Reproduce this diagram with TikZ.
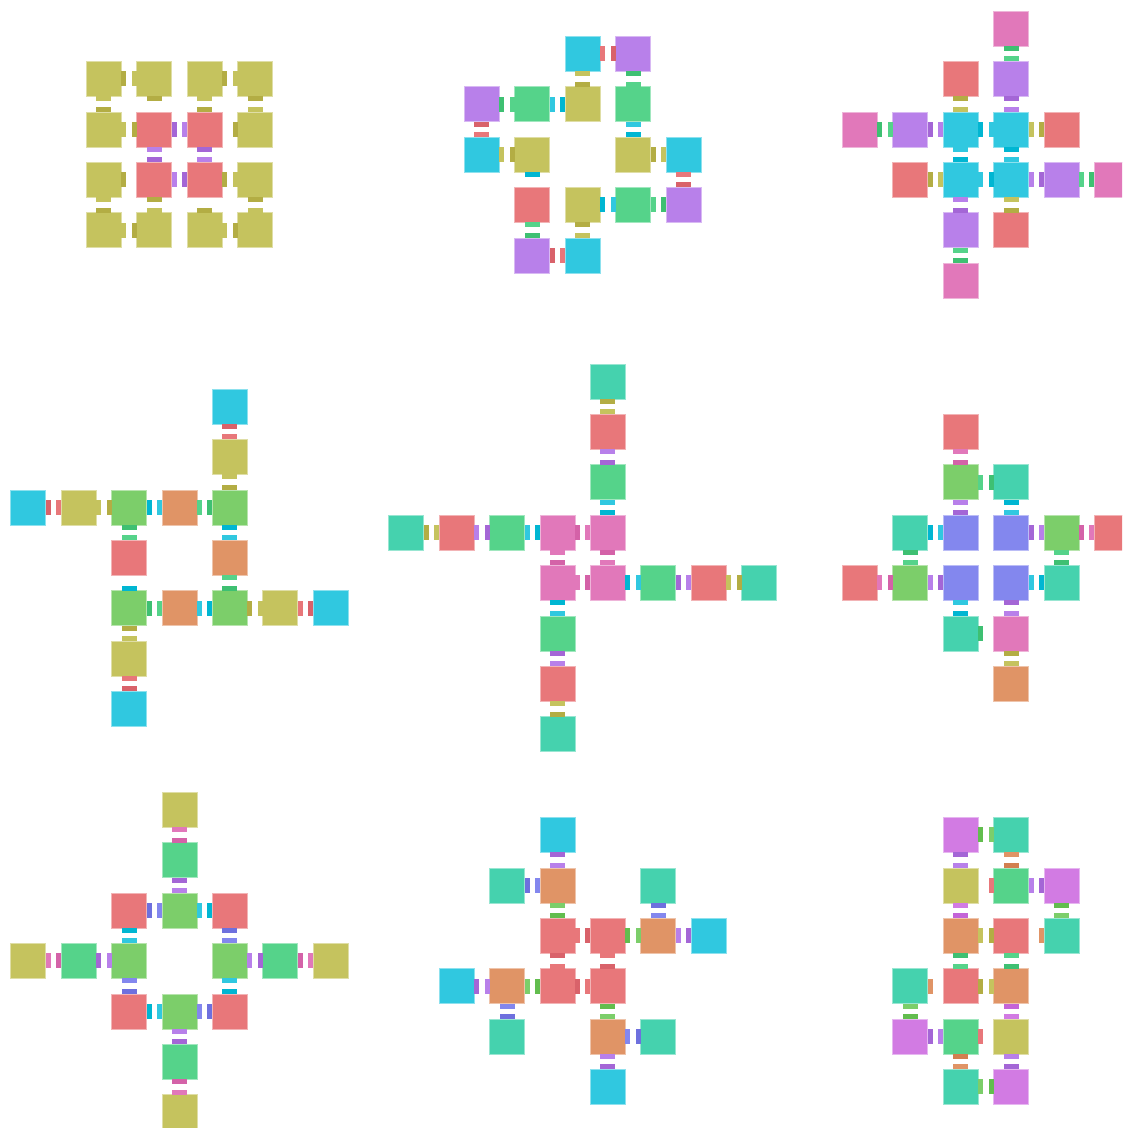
\documentclass[tikz,border=0pt]{standalone}
\usepackage{tikz}
\definecolor{Y}{HTML}{C5C35E}\definecolor{Yd}{HTML}{B3AD44}
\definecolor{R}{HTML}{E8777A}\definecolor{Rd}{HTML}{D9626A}
\definecolor{P}{HTML}{B880EA}\definecolor{Pd}{HTML}{A466D6}
\definecolor{C}{HTML}{30C8E0}\definecolor{Cd}{HTML}{00B6D2}
\definecolor{G}{HTML}{55D38A}\definecolor{Gd}{HTML}{3EC072}
\definecolor{K}{HTML}{E178BA}\definecolor{Kd}{HTML}{D462A8}
\definecolor{O}{HTML}{E09466}\definecolor{Od}{HTML}{D27F50}
\definecolor{L}{HTML}{7CCE6A}\definecolor{Ld}{HTML}{62BD4E}
\definecolor{T}{HTML}{45D2AE}
\definecolor{B}{HTML}{8387EE}\definecolor{Bd}{HTML}{6E70DE}
\definecolor{M}{HTML}{D27BE3}\definecolor{Md}{HTML}{C464D8}
\newcommand\xsq[3]{\fill[#3,draw=#3!55!white,line width=0.4pt] ({50.4*#1-17.5},{50.4*#2-17.5}) rectangle +(35,35);}
\newcommand\xtR[3]{\fill[#3] ({50.4*#1+17.5},{50.4*#2-7.5}) rectangle +(5,15);}
\newcommand\xtL[3]{\fill[#3] ({50.4*#1-22.5},{50.4*#2-7.5}) rectangle +(5,15);}
\newcommand\xtU[3]{\fill[#3] ({50.4*#1-7.5},{50.4*#2-22.5}) rectangle +(15,5);}
\newcommand\xtD[3]{\fill[#3] ({50.4*#1-7.5},{50.4*#2+17.5}) rectangle +(15,5);}
\tikzset{panel/.style 2 args={shift={({10.7+25.2*#1+17.5},{11+25.2*#2+17.5})}}}
\begin{document}
\begin{tikzpicture}[x=0.75pt,y=-0.75pt]
\useasboundingbox (0,0) rectangle (1122,1128);
\clip (0,0) rectangle (1122,1128);
\fill[white] (0,0) rectangle (1122,1128);
% Panel 1
\begin{scope}[panel={3}{2}]
\foreach \c/\r/\k in {0/0/Y,1/0/Y,2/0/Y,3/0/Y,0/1/Y,1/1/R,2/1/R,3/1/Y,0/2/Y,1/2/R,2/2/R,3/2/Y,0/3/Y,1/3/Y,2/3/Y,3/3/Y}{\xsq{\c}{\r}{\k}}
\xtR{0}{0}{Yd} \xtD{0}{0}{Y}
\xtL{1}{0}{Y} \xtD{1}{0}{Yd}
\xtD{2}{0}{Y} \xtR{2}{0}{Yd}
\xtL{3}{0}{Y} \xtD{3}{0}{Yd}
\xtU{0}{1}{Yd} \xtR{0}{1}{Y}
\xtL{1}{1}{Yd} \xtR{1}{1}{Pd} \xtD{1}{1}{P}
\xtU{2}{1}{Yd} \xtL{2}{1}{P} \xtD{2}{1}{Pd}
\xtU{3}{1}{Y} \xtL{3}{1}{Yd}
\xtR{0}{2}{Yd} \xtD{0}{2}{Y}
\xtU{1}{2}{Pd} \xtR{1}{2}{P} \xtD{1}{2}{Yd}
\xtU{2}{2}{P} \xtL{2}{2}{Pd} \xtR{2}{2}{Yd}
\xtL{3}{2}{Y} \xtD{3}{2}{Yd}
\xtU{0}{3}{Yd} \xtR{0}{3}{Y}
\xtU{1}{3}{Y} \xtL{1}{3}{Yd}
\xtU{2}{3}{Yd} \xtR{2}{3}{Y}
\xtL{3}{3}{Yd} \xtU{3}{3}{Y}
\end{scope}
% Panel 2
\begin{scope}[panel={18}{1}]
\foreach \c/\r/\k in {2/0/C,3/0/P,0/1/P,1/1/G,2/1/Y,3/1/G,0/2/C,1/2/Y,3/2/Y,4/2/C,1/3/R,2/3/Y,3/3/G,4/3/P,1/4/P,2/4/C}{\xsq{\c}{\r}{\k}}
\xtR{2}{0}{R} \xtL{3}{0}{Rd}
\xtD{2}{0}{Y} \xtU{2}{1}{Yd}
\xtD{3}{0}{Gd} \xtU{3}{1}{G}
\xtR{0}{1}{Gd} \xtL{1}{1}{G}
\xtR{1}{1}{C} \xtL{2}{1}{Cd}
\xtD{0}{1}{Rd} \xtU{0}{2}{R}
\xtD{3}{1}{C} \xtU{3}{2}{Cd}
\xtR{0}{2}{Y} \xtL{1}{2}{Yd}
\xtD{1}{2}{Cd}
\xtR{3}{2}{Yd} \xtL{4}{2}{Y}
\xtD{4}{2}{R} \xtU{4}{3}{Rd}
\xtR{2}{3}{Cd} \xtL{3}{3}{C}
\xtR{3}{3}{G} \xtL{4}{3}{Gd}
\xtD{1}{3}{G} \xtU{1}{4}{Gd}
\xtD{2}{3}{Yd} \xtU{2}{4}{Y}
\xtR{1}{4}{Rd} \xtL{2}{4}{R}
\end{scope}
% Panel 3
\begin{scope}[panel={33}{0}]
\foreach \c/\r/\k in {3/0/K,2/1/R,3/1/P,0/2/K,1/2/P,2/2/C,3/2/C,4/2/R,1/3/R,2/3/C,3/3/C,4/3/P,5/3/K,2/4/P,3/4/R,2/5/K}{\xsq{\c}{\r}{\k}}
\xtD{3}{0}{Gd} \xtU{3}{1}{G}
\xtD{2}{1}{Yd} \xtU{2}{2}{Y}
\xtD{3}{1}{Pd} \xtU{3}{2}{P}
\xtR{0}{2}{Gd} \xtL{1}{2}{G}
\xtR{1}{2}{Pd} \xtL{2}{2}{P}
\xtR{2}{2}{Cd} \xtL{3}{2}{C}
\xtR{3}{2}{Y} \xtL{4}{2}{Yd}
\xtD{2}{2}{C} \xtU{2}{3}{Cd}
\xtD{3}{2}{Cd} \xtU{3}{3}{C}
\xtR{1}{3}{Yd} \xtL{2}{3}{Y}
\xtR{2}{3}{C} \xtL{3}{3}{Cd}
\xtR{3}{3}{P} \xtL{4}{3}{Pd}
\xtR{4}{3}{G} \xtL{5}{3}{Gd}
\xtD{2}{3}{P} \xtU{2}{4}{Pd}
\xtD{3}{3}{Y} \xtU{3}{4}{Yd}
\xtD{2}{4}{G} \xtU{2}{5}{Gd}
\end{scope}
% Panel 4
\begin{scope}[panel={0}{15}]
\foreach \c/\r/\k in {4/0/C,4/1/Y,0/2/C,1/2/Y,2/2/L,3/2/O,4/2/L,2/3/R,4/3/O,2/4/L,3/4/O,4/4/L,5/4/Y,6/4/C,2/5/Y,2/6/C}{\xsq{\c}{\r}{\k}}
\xtD{4}{0}{Rd} \xtU{4}{1}{R}
\xtD{4}{1}{Y} \xtU{4}{2}{Yd}
\xtR{0}{2}{Rd} \xtL{1}{2}{R}
\xtR{1}{2}{Y} \xtL{2}{2}{Yd}
\xtR{2}{2}{Cd} \xtL{3}{2}{C}
\xtR{3}{2}{G} \xtL{4}{2}{Gd}
\xtD{2}{2}{Gd} \xtU{2}{3}{G}
\xtD{4}{2}{Cd} \xtU{4}{3}{C}
\xtD{4}{3}{G} \xtU{4}{4}{Gd}
\xtU{2}{4}{Cd}
\xtR{2}{4}{Gd} \xtL{3}{4}{G}
\xtR{3}{4}{C} \xtL{4}{4}{Cd}
\xtR{4}{4}{Yd} \xtL{5}{4}{Y}
\xtR{5}{4}{R} \xtL{6}{4}{Rd}
\xtD{2}{4}{Yd} \xtU{2}{5}{Y}
\xtD{2}{5}{R} \xtU{2}{6}{Rd}
\end{scope}
% Panel 5
\begin{scope}[panel={15}{14}]
\foreach \c/\r/\k in {4/0/T,4/1/R,4/2/G,0/3/T,1/3/R,2/3/G,3/3/K,4/3/K,3/4/K,4/4/K,5/4/G,6/4/R,7/4/T,3/5/G,3/6/R,3/7/T}{\xsq{\c}{\r}{\k}}
\xtD{4}{0}{Yd} \xtU{4}{1}{Y}
\xtD{4}{1}{P} \xtU{4}{2}{Pd}
\xtD{4}{2}{C} \xtU{4}{3}{Cd}
\xtR{0}{3}{Yd} \xtL{1}{3}{Y}
\xtR{1}{3}{P} \xtL{2}{3}{Pd}
\xtR{2}{3}{C} \xtL{3}{3}{Cd}
\xtR{3}{3}{Kd} \xtL{4}{3}{K}
\xtD{3}{3}{K} \xtU{3}{4}{Kd}
\xtD{4}{3}{Kd} \xtU{4}{4}{K}
\xtR{3}{4}{K} \xtL{4}{4}{Kd}
\xtR{4}{4}{Cd} \xtL{5}{4}{C}
\xtR{5}{4}{Pd} \xtL{6}{4}{P}
\xtR{6}{4}{Y} \xtL{7}{4}{Yd}
\xtD{3}{4}{Cd} \xtU{3}{5}{C}
\xtD{3}{5}{Pd} \xtU{3}{6}{P}
\xtD{3}{6}{Y} \xtU{3}{7}{Yd}
\end{scope}
% Panel 6
\begin{scope}[panel={33}{16}]
\foreach \c/\r/\k in {2/0/R,2/1/L,3/1/T,1/2/T,2/2/B,3/2/B,4/2/L,5/2/R,0/3/R,1/3/L,2/3/B,3/3/B,4/3/T,2/4/T,3/4/K,3/5/O}{\xsq{\c}{\r}{\k}}
\xtD{2}{0}{K} \xtU{2}{1}{Kd}
\xtR{2}{1}{G} \xtL{3}{1}{Gd}
\xtD{2}{1}{P} \xtU{2}{2}{Pd}
\xtD{3}{1}{Cd} \xtU{3}{2}{C}
\xtR{1}{2}{Cd} \xtL{2}{2}{C}
\xtR{3}{2}{Pd} \xtL{4}{2}{P}
\xtR{4}{2}{Kd} \xtL{5}{2}{K}
\xtD{1}{2}{Gd} \xtU{1}{3}{G}
\xtD{4}{2}{G} \xtU{4}{3}{Gd}
\xtR{0}{3}{K} \xtL{1}{3}{Kd}
\xtR{1}{3}{P} \xtL{2}{3}{Pd}
\xtR{3}{3}{C} \xtL{4}{3}{Cd}
\xtD{2}{3}{C} \xtU{2}{4}{Cd}
\xtD{3}{3}{Pd} \xtU{3}{4}{P}
\xtR{2}{4}{Gd}
\xtD{3}{4}{Yd} \xtU{3}{5}{Y}
\end{scope}
% Panel 7
\begin{scope}[panel={0}{31}]
\foreach \c/\r/\k in {3/0/Y,3/1/G,2/2/R,3/2/L,4/2/R,0/3/Y,1/3/G,2/3/L,4/3/L,5/3/G,6/3/Y,2/4/R,3/4/L,4/4/R,3/5/G,3/6/Y}{\xsq{\c}{\r}{\k}}
\xtD{3}{0}{K} \xtU{3}{1}{Kd}
\xtD{3}{1}{Pd} \xtU{3}{2}{P}
\xtR{2}{2}{Bd} \xtL{3}{2}{B}
\xtR{3}{2}{C} \xtL{4}{2}{Cd}
\xtD{2}{2}{Cd} \xtU{2}{3}{C}
\xtD{4}{2}{Bd} \xtU{4}{3}{B}
\xtR{0}{3}{K} \xtL{1}{3}{Kd}
\xtR{1}{3}{Pd} \xtL{2}{3}{P}
\xtR{4}{3}{P} \xtL{5}{3}{Pd}
\xtR{5}{3}{Kd} \xtL{6}{3}{K}
\xtD{2}{3}{B} \xtU{2}{4}{Bd}
\xtD{4}{3}{C} \xtU{4}{4}{Cd}
\xtR{2}{4}{Cd} \xtL{3}{4}{C}
\xtR{3}{4}{B} \xtL{4}{4}{Bd}
\xtD{3}{4}{P} \xtU{3}{5}{Pd}
\xtD{3}{5}{Kd} \xtU{3}{6}{K}
\end{scope}
% Panel 8
\begin{scope}[panel={17}{32}]
\foreach \c/\r/\k in {2/0/C,1/1/T,2/1/O,4/1/T,2/2/R,3/2/R,4/2/O,5/2/C,0/3/C,1/3/O,2/3/R,3/3/R,1/4/T,3/4/O,4/4/T,3/5/C}{\xsq{\c}{\r}{\k}}
\xtD{2}{0}{Pd} \xtU{2}{1}{P}
\xtR{1}{1}{Bd} \xtL{2}{1}{B}
\xtD{2}{1}{L} \xtU{2}{2}{Ld}
\xtD{4}{1}{Bd} \xtU{4}{2}{B}
\xtR{2}{2}{R} \xtL{3}{2}{Rd}
\xtR{3}{2}{Ld} \xtL{4}{2}{L}
\xtR{4}{2}{P} \xtL{5}{2}{Pd}
\xtD{2}{2}{Rd} \xtU{2}{3}{R}
\xtD{3}{2}{R} \xtU{3}{3}{Rd}
\xtR{0}{3}{Pd} \xtL{1}{3}{P}
\xtR{1}{3}{L} \xtL{2}{3}{Ld}
\xtR{2}{3}{Rd} \xtL{3}{3}{R}
\xtD{1}{3}{B} \xtU{1}{4}{Bd}
\xtD{3}{3}{Ld} \xtU{3}{4}{L}
\xtR{3}{4}{B} \xtL{4}{4}{Bd}
\xtD{3}{4}{P} \xtU{3}{5}{Pd}
\end{scope}
% Panel 9
\begin{scope}[panel={35}{32}]
\foreach \c/\r/\k in {1/0/M,2/0/T,1/1/Y,2/1/G,3/1/M,1/2/O,2/2/R,3/2/T,0/3/T,1/3/R,2/3/O,0/4/M,1/4/G,2/4/Y,1/5/T,2/5/M}{\xsq{\c}{\r}{\k}}
\xtR{1}{0}{Ld} \xtL{2}{0}{L}
\xtD{1}{0}{Pd} \xtU{1}{1}{P}
\xtD{2}{0}{O} \xtU{2}{1}{Od}
\xtL{2}{1}{R}
\xtR{2}{1}{P} \xtL{3}{1}{Pd}
\xtD{1}{1}{M} \xtU{1}{2}{Md}
\xtD{3}{1}{Ld} \xtU{3}{2}{L}
\xtR{1}{2}{Y} \xtL{2}{2}{Yd}
\xtL{3}{2}{O}
\xtD{1}{2}{Gd} \xtU{1}{3}{G}
\xtD{2}{2}{G} \xtU{2}{3}{Gd}
\xtR{0}{3}{O}
\xtR{1}{3}{Yd} \xtL{2}{3}{Y}
\xtD{0}{3}{L} \xtU{0}{4}{Ld}
\xtD{2}{3}{Md} \xtU{2}{4}{M}
\xtR{0}{4}{Pd} \xtL{1}{4}{P}
\xtR{1}{4}{R}
\xtD{1}{4}{Od} \xtU{1}{5}{O}
\xtD{2}{4}{P} \xtU{2}{5}{Pd}
\xtR{1}{5}{L} \xtL{2}{5}{Ld}
\end{scope}
\end{tikzpicture}
\end{document}
